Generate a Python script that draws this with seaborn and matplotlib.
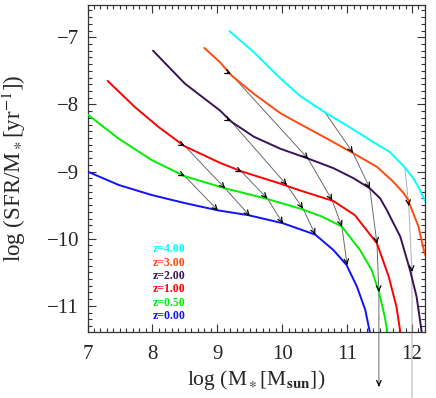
import numpy as np
import pandas as pd
import matplotlib
matplotlib.use("Agg")
import matplotlib.pyplot as plt
import seaborn as sns

sns.set_style("ticks")
plt.rcParams["font.family"] = ["Liberation Serif", "DejaVu Serif"]
plt.rcParams["mathtext.fontset"] = "stix"

# ── sSFR(M*) curves at each redshift ────────────────────────────────────────
z_labels = ["z=4.00", "z=3.00", "z=2.00", "z=1.00", "z=0.50", "z=0.00"]
z_colors = ["#00FFFF", "#FF4A10", "#3A1258", "#FF0000", "#00EE00", "#1010FF"]

m_z4 = [9.19, 9.56, 9.97, 10.27, 10.66, 10.99, 11.35, 11.66, 11.89, 12.02, 12.12, 12.20]
s_z4 = [-6.91, -7.22, -7.61, -7.87, -8.12, -8.31, -8.53, -8.71, -8.94, -9.10, -9.27, -9.44]

m_z3 = [8.80, 9.04, 9.22, 9.56, 9.97, 10.27, 10.69, 11.10, 11.46, 11.71, 11.87, 11.94, 11.97, 12.10, 12.17, 12.20]
s_z3 = [-7.16, -7.37, -7.57, -7.84, -8.13, -8.29, -8.51, -8.73, -8.93, -9.15, -9.32, -9.42, -9.50, -9.82, -10.12, -10.24]

m_z2 = [8.01, 8.50, 9.04, 9.22, 9.56, 9.97, 10.38, 10.79, 11.10, 11.35, 11.51, 11.61, 11.82, 11.97, 12.07, 12.15]
s_z2 = [-7.20, -7.69, -8.09, -8.26, -8.48, -8.66, -8.80, -8.95, -9.10, -9.25, -9.40, -9.57, -9.97, -10.47, -10.86, -11.39]

m_z1 = [7.31, 7.73, 8.10, 8.49, 9.04, 9.38, 9.97, 10.27, 10.79, 11.12, 11.46, 11.64, 11.76, 11.82]
s_z1 = [-7.65, -8.04, -8.34, -8.62, -8.87, -9.00, -9.18, -9.28, -9.44, -9.65, -10.07, -10.56, -11.01, -11.39]

m_z05 = [7.00, 7.48, 7.99, 8.50, 9.12, 9.74, 10.27, 10.61, 10.92, 11.20, 11.38, 11.49, 11.58, 11.62]
s_z05 = [-8.15, -8.51, -8.83, -9.07, -9.25, -9.40, -9.55, -9.67, -9.82, -10.17, -10.47, -10.79, -11.16, -11.39]

m_z0 = [7.00, 7.48, 7.99, 8.50, 9.02, 9.48, 10.01, 10.51, 10.79, 10.99, 11.15, 11.28, 11.35]
s_z0 = [-9.00, -9.20, -9.35, -9.47, -9.58, -9.65, -9.77, -9.94, -10.17, -10.39, -10.71, -11.06, -11.39]

curves = [(m_z4, s_z4), (m_z3, s_z3), (m_z2, s_z2), (m_z1, s_z1), (m_z05, s_z05), (m_z0, s_z0)]

# ── evolutionary tracks (arrows between redshifts) ──────────────────────────
track_a_m = [9.21, 10.40, 10.77, 10.92, 11.00]
track_a_s = [-7.55, -8.81, -9.43, -9.82, -10.39]
track_b_m = [9.21, 10.07, 10.32, 10.51]
track_b_s = [-8.25, -9.20, -9.55, -9.94]
track_c_m = [8.50, 9.12, 9.50]
track_c_s = [-8.62, -9.25, -9.66]
track_d_m = [9.38, 9.77, 10.01]
track_d_s = [-9.01, -9.40, -9.77]
track_e_m = [8.50, 9.01]
track_e_s = [-9.07, -9.58]
track_f_m = [10.66, 11.09, 11.35, 11.46, 11.49, 11.49]
track_f_s = [-8.12, -8.72, -9.25, -10.07, -10.79, -12.20]
track_g_m = [11.89, 11.95, 12.00, 12.00]
track_g_s = [-8.94, -9.51, -10.49, -12.40]

# (m, s, start marker?, arrow on last point?, colour)
tracks = [
    (track_a_m, track_a_s, True, True, "#6a6a6a"),
    (track_b_m, track_b_s, True, True, "#6a6a6a"),
    (track_c_m, track_c_s, True, True, "#6a6a6a"),
    (track_d_m, track_d_s, True, True, "#6a6a6a"),
    (track_e_m, track_e_s, True, True, "#6a6a6a"),
    (track_f_m, track_f_s, False, True, "#6a6a6a"),
    (track_g_m, track_g_s, False, False, "#b0b0b0"),
]

df = pd.concat([pd.DataFrame({"logM": m, "logsSFR": s, "z": lab})
                for (m, s), lab in zip(curves, z_labels)], ignore_index=True)

fig = plt.figure(figsize=(4.36, 3.98), dpi=100)
ax = fig.add_axes([0.2007, 0.1658, 0.774, 0.8216])

sns.lineplot(data=df, x="logM", y="logsSFR", hue="z", palette=dict(zip(z_labels, z_colors)),
             hue_order=z_labels, sort=False, estimator=None, legend=False, lw=1.4, ax=ax,
             zorder=3, solid_joinstyle="round")

head = dict(arrowstyle="->", color="black", lw=0.9, mutation_scale=8, shrinkA=0, shrinkB=0)
for tm, ts, start, last_head, col in tracks:
    ax.plot(tm, ts, color=col, lw=0.7, clip_on=False, zorder=2)
    n = len(tm)
    for i in range(1, n):
        if i == n - 1 and not last_head:
            continue
        dx, dy = tm[i] - tm[i - 1], ts[i] - ts[i - 1]
        f = 0.02 / np.hypot(dx, dy)
        ax.annotate("", xy=(tm[i], ts[i]), xytext=(tm[i] - dx * f, ts[i] - dy * f),
                    arrowprops=head, annotation_clip=False, zorder=4)
    if start:
        ax.annotate("", xy=(tm[0], ts[0]), xytext=(tm[0] - 0.05, ts[0] + 0.025),
                    arrowprops=head, zorder=4)

for i, (lab, col) in enumerate(zip(z_labels, z_colors)):
    ax.text(0.194, 0.253 - i * 0.0407, lab, color=col, transform=ax.transAxes,
            fontsize=8.5, fontweight="bold", va="center", ha="left")

ax.set_xlim(7, 12.2)
ax.set_ylim(-11.39, -6.52)
ax.set_xticks([7, 8, 9, 10, 11, 12])
ax.set_yticks([-11, -10, -9, -8, -7])
ax.set_xticklabels(["7", "8", "9", "10", "11", "12"])
ax.set_yticklabels(["\u221211", "\u221210", "\u22129", "\u22128", "\u22127"])
ax.xaxis.set_minor_locator(plt.MultipleLocator(0.1))
ax.yaxis.set_minor_locator(plt.MultipleLocator(0.1))
ax.tick_params(which="both", direction="in", top=True, right=True, color="#333333", width=0.8)
ax.tick_params(which="major", length=6, labelsize=15)
ax.tick_params(axis="x", which="major", pad=9)
ax.tick_params(axis="y", which="major", pad=6)
ax.tick_params(which="minor", length=3)
for sp in ax.spines.values():
    sp.set_color("#333333"); sp.set_linewidth(0.9)

ax.set_xlabel(r"log (M$_\ast$[M$_{\mathbf{sun}}$])", fontsize=15.5)
ax.set_ylabel(r"log (SFR/M$_\ast$[yr$^{-1}$])", fontsize=16.5)
ax.xaxis.set_label_coords(0.5, -0.11)
ax.yaxis.set_label_coords(-0.175, 0.5)

plt.savefig("out.png", dpi=100)
